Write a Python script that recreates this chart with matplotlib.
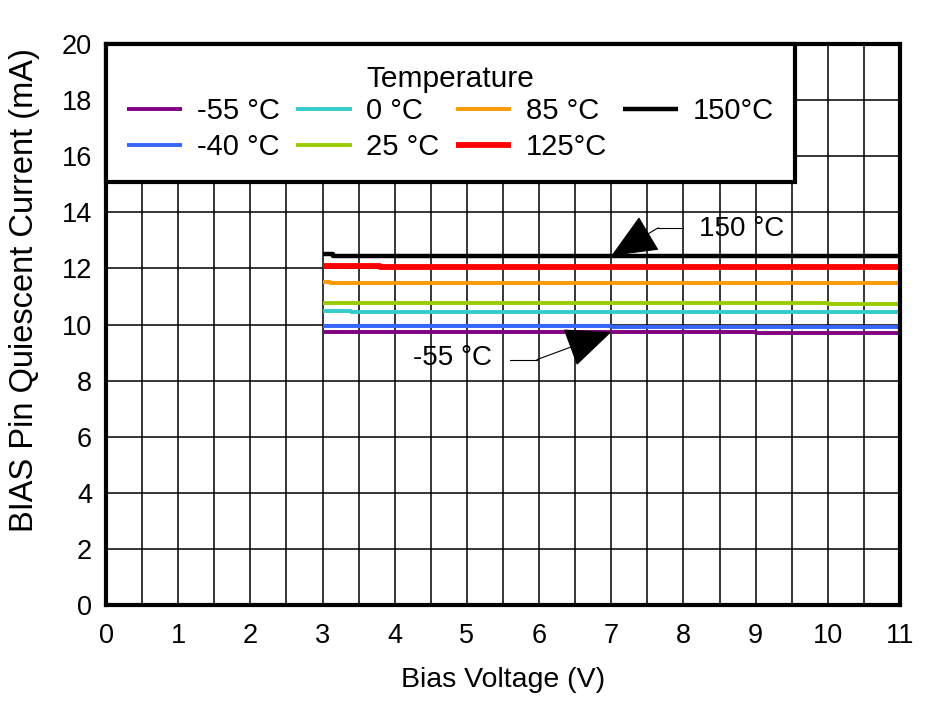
import matplotlib.pyplot as plt

plt.rcParams['font.family'] = ['Liberation Sans', 'DejaVu Sans']

# Bias voltage (V) / quiescent current (mA)
labels = ["-55 °C", "-40 °C", "0 °C", "25 °C", "85 °C", "125°C", "150°C"]
colors = ["#800080", "#3366FF", "#33CCCC", "#99CC00", "#FF9900", "#FF0000", "#000000"]
widths = [2.8, 2.8, 2.8, 2.8, 2.8, 4.2, 3.2]

v_m55 = [3.0, 9.0, 9.0, 11.0]
i_m55 = [9.73, 9.73, 9.70, 9.70]
v_m40 = [3.0, 7.0, 7.0, 11.0]
i_m40 = [9.95, 9.95, 9.91, 9.91]
v_0 = [3.0, 3.4, 3.4, 11.0]
i_0 = [10.50, 10.50, 10.46, 10.46]
v_25 = [3.0, 10.0, 10.0, 11.0]
i_25 = [10.78, 10.78, 10.74, 10.74]
v_85 = [3.0, 3.11, 3.11, 11.0]
i_85 = [11.53, 11.53, 11.48, 11.48]
v_125 = [3.0, 3.8, 3.8, 11.0]
i_125 = [12.10, 12.10, 12.07, 12.07]
v_150 = [3.0, 3.14, 3.14, 11.0]
i_150 = [12.50, 12.50, 12.45, 12.45]

volts = [v_m55, v_m40, v_0, v_25, v_85, v_125, v_150]
currents = [i_m55, i_m40, i_0, i_25, i_85, i_125, i_150]

x_ticks = list(range(0, 12))
y_ticks = list(range(0, 21, 2))

fig = plt.figure(figsize=(9.4, 7.01), dpi=100)
ax = fig.add_axes([0.1128, 0.137, 0.8446, 0.800])

for v, i, lab, c, w in zip(volts, currents, labels, colors, widths):
    ax.plot(v, i, color=c, linewidth=w, label=lab, solid_capstyle="butt")

ax.set_xlim(0, 11)
ax.set_ylim(0, 20)
ax.set_xticks(x_ticks)
ax.set_yticks(y_ticks)
ax.set_xticks([t + 0.5 for t in x_ticks[:-1]], minor=True)
ax.grid(which="both", axis="x", color="black", linewidth=1.1)
ax.grid(which="major", axis="y", color="black", linewidth=1.1)
ax.tick_params(which="both", length=0, labelsize=19.5)
ax.tick_params(axis="x", pad=13)
ax.tick_params(axis="y", pad=10)
for s in ax.spines.values():
    s.set_linewidth(3)

ax.set_xlabel("Bias Voltage (V)", fontsize=20.5, labelpad=13)
ax.set_ylabel("BIAS Pin Quiescent Current (mA)", fontsize=23.5)
ax.yaxis.set_label_coords(-0.083, 0.561)

# callouts
arrow = dict(arrowstyle="-|>,head_length=1.5,head_width=0.65", color="black",
             linewidth=0.8, mutation_scale=20, shrinkA=0, shrinkB=0)
ax.text(8.8, 13.4, "150 °C", fontsize=20, ha="center", va="center")
ax.plot([8.0, 7.65], [13.45, 13.45], color="black", linewidth=0.8)
ax.annotate("", xy=(7.0, 12.45), xytext=(7.65, 13.45), arrowprops=arrow)
ax.text(4.8, 8.8, "-55 °C", fontsize=20, ha="center", va="center")
ax.plot([5.6, 5.97], [8.75, 8.75], color="black", linewidth=0.8)
ax.annotate("", xy=(7.0, 9.73), xytext=(5.97, 8.75), arrowprops=arrow)

leg = ax.legend(loc="upper left", bbox_to_anchor=(0, 1, 0.868, 0), mode="expand",
                ncol=4, title="Temperature", fontsize=21, title_fontsize=21.5,
                frameon=True, fancybox=False, framealpha=1, edgecolor="black",
                borderaxespad=0, handlelength=1.9, handletextpad=0.5,
                labelspacing=0.28, borderpad=0.72, columnspacing=0.5)
leg.get_frame().set_linewidth(3)
leg.set_zorder(5)
# tighten the gap between the title and the first row
leg._legend_box.sep = 3.0

fig.savefig("out.png", dpi=100)
